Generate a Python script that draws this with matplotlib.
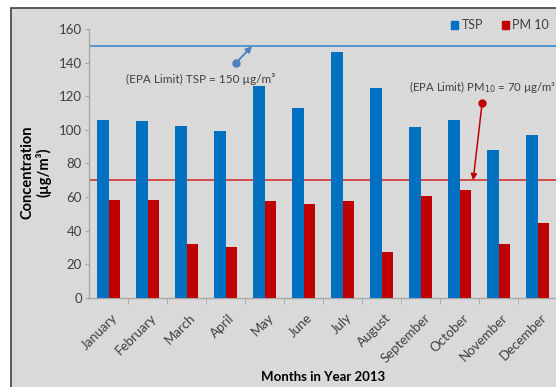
import matplotlib
matplotlib.use("Agg")
import matplotlib.pyplot as plt
from matplotlib.patches import Rectangle, Patch
from matplotlib.transforms import ScaledTranslation
import numpy as np

plt.rcParams['font.family'] = ['Lato', 'DejaVu Sans']

months = ["January", "February", "March", "April", "May", "June", "July",
          "August", "September", "October", "November", "December"]
tsp = [106, 105.5, 102.5, 99.5, 126, 113, 146.5, 125, 101.5, 106, 88, 97]
pm10 = [58.5, 58, 32, 30.5, 57.5, 56, 57.5, 27.5, 60.5, 64.5, 32, 44.5]
tsp_limit = 150
pm10_limit = 70
yticks = [0, 20, 40, 60, 80, 100, 120, 140, 160]

BLUE = "#0070C0"
RED = "#C00000"
BG = "#d9d9d9"
TXT = "#404040"

W, H = 556, 387
fig = plt.figure(figsize=(W / 100, H / 100), dpi=100, facecolor="white")

# gray chart panel with a dark frame
fig.patches.append(Rectangle((11 / W, -0.05), 1.1, (379 / H) + 0.05,
                             transform=fig.transFigure, facecolor=BG,
                             edgecolor="#404040", linewidth=1.2, zorder=-10))

ax = fig.add_axes([89 / W, (H - 297.7) / H, 468 / W, 268.4 / H])
ax.patch.set_alpha(0)

x = np.arange(len(months))
bw = 0.29
ax.bar(x - bw / 2, tsp, bw, color=BLUE, label="TSP", zorder=3)
ax.bar(x + bw / 2, pm10, bw, color=RED, label="PM 10", zorder=3)

ax.axhline(tsp_limit, color="#4a90d0", linewidth=1.3, zorder=2)
ax.axhline(pm10_limit, color="#d04040", linewidth=1.3, zorder=2)

ax.set_xlim(-0.5, len(months) - 0.5)
ax.set_ylim(0, 160)
ax.set_yticks(yticks)
ax.tick_params(axis="y", length=3, color="#a6a6a6", labelsize=9.5,
               labelcolor=TXT, pad=2)
ax.set_xticks(x)
ax.set_xticklabels(months, rotation=45, ha="right", va="top",
                   rotation_mode="anchor", fontsize=9.5, color=TXT)
ax.tick_params(axis="x", which="major", length=0, pad=10)
ax.set_xticks(x[:-1] + 0.5, minor=True)
ax.tick_params(axis="x", which="minor", length=4, color="#a6a6a6")
shift = ScaledTranslation(3 / 100, 0, fig.dpi_scale_trans)
for lbl in ax.get_xticklabels():
    lbl.set_transform(lbl.get_transform() + shift)

for s in ["top", "right"]:
    ax.spines[s].set_visible(False)
for s in ["left", "bottom"]:
    ax.spines[s].set_color("#a6a6a6")
    ax.spines[s].set_linewidth(1)

fig.text(36 / W, 1 - 172 / H, "Concentration\n(µg/m³)", rotation=90,
         ha="center", va="center", fontsize=10.5, fontweight="bold",
         color="black", linespacing=1.15)
fig.text(323 / W, 1 - 377 / H, "Months in Year 2013", ha="center",
         va="center", fontsize=9.5, fontweight="bold", color="black")

handles = [Patch(color=BLUE, label="TSP"), Patch(color=RED, label="PM 10")]
fig.legend(handles=handles, loc="center right", ncol=2, frameon=False,
           bbox_to_anchor=(549 / W, 1 - 25 / H), handlelength=0.6,
           handleheight=0.6, handletextpad=0.25, columnspacing=1.5,
           fontsize=9, labelcolor=TXT, borderaxespad=0, borderpad=0)

# limit annotations
ax.annotate("", xy=(3.68, tsp_limit), xytext=(3.27, 140),
            arrowprops=dict(arrowstyle="-|>", color="#4a80c0", lw=1.3,
                            mutation_scale=9, shrinkA=0, shrinkB=0))
ax.plot([3.27], [140], "o", color="#4a80c0", markersize=5, zorder=5)
ax.text(2.35, 130.5, "(EPA Limit) TSP = 150 µg/m³", ha="center",
        va="center", fontsize=8.5, color=TXT)

ax.annotate("", xy=(9.35, pm10_limit), xytext=(9.58, 116),
            arrowprops=dict(arrowstyle="-|>", color=RED, lw=1.1,
                            mutation_scale=9, shrinkA=0, shrinkB=0))
ax.plot([9.58], [116], "o", color=RED, markersize=5, zorder=5)
ax.text(9.6, 125.5, "(EPA Limit) PM$_{10}$ = 70 µg/m³", ha="center",
        va="center", fontsize=8.2, color=TXT)

fig.savefig("out.png", dpi=100, facecolor="white")
